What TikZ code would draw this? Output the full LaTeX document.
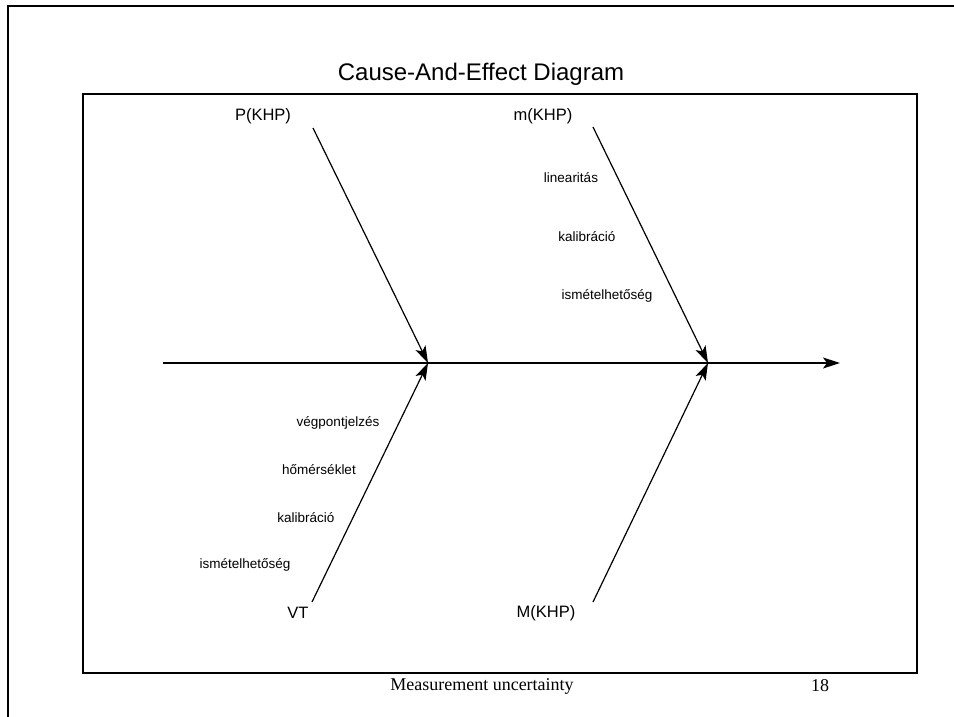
\documentclass[tikz,border=0pt]{standalone}
\usepackage{fontspec}
\setmainfont{Liberation Serif}
\setsansfont{Liberation Sans}
\usetikzlibrary{arrows.meta}

\begin{document}
\begin{tikzpicture}[
  x=1pt, y=-1pt,
  every node/.style={inner sep=0pt},
  headline/.style={font=\sffamily\fontsize{24}{26}\selectfont},
  cause/.style={font=\sffamily\fontsize{16.5}{18}\selectfont},
  factor/.style={font=\sffamily\fontsize{13.5}{15}\selectfont},
  footer/.style={font=\fontsize{18}{20}\selectfont},
  bone/.style={-{Stealth[length=17pt,width=11pt,inset=4pt]}, line width=1.2pt}
]
  \useasboundingbox (0,0) rectangle (954,717);

  % slide frame and diagram box
  \draw[line width=2pt] (954,6) -- (8,6) -- (8,717);
  \draw[line width=1.5pt] (83,94) rectangle (917,673);

  \node[headline] (title) at (481,74) {Cause-And-Effect Diagram};

  % spine
  \coordinate (tail) at (163,363);
  \coordinate (head) at (840,363);
  \coordinate (joinA) at (428,363);
  \coordinate (joinB) at (708,363);

  % bone ends
  \coordinate (pkhpEnd) at (313,128);
  \coordinate (mkhpEnd) at (593,127);
  \coordinate (vtEnd) at (312,602);
  \coordinate (MkhpEnd) at (593,602);

  \node[cause] (pkhp) at (263,116) {P(KHP)};
  \node[cause] (mkhp) at (543,116) {m(KHP)};
  \node[cause] (vt) at (298,613) {VT};
  \node[cause] (Mkhp) at (546,613) {M(KHP)};

  \node[factor] (linear) at (571,178) {linearitás};
  \node[factor] (kalibM) at (587,237) {kalibráció};
  \node[factor] (ismetM) at (607,296) {ismételhetőség};

  \node[factor] (vegpont) at (338,423) {végpontjelzés};
  \node[factor] (homers) at (319,470) {hőmérséklet};
  \node[factor] (kalibV) at (306,518) {kalibráció};
  \node[factor] (ismetV) at (245,565) {ismételhetőség};

  \draw[bone] (tail) -- (head);
  \draw[bone] (pkhpEnd) -- (joinA);
  \draw[bone] (vtEnd) -- (joinA);
  \draw[bone] (mkhpEnd) -- (joinB);
  \draw[bone] (MkhpEnd) -- (joinB);

  \node[footer] (caption) at (482,686) {Measurement uncertainty};
  \node[footer] (pageno) at (820,686) {18};
\end{tikzpicture}
\end{document}
